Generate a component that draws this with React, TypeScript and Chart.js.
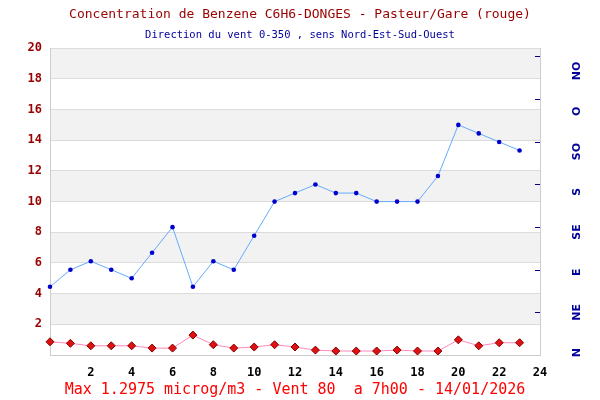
import React, { useEffect, useRef } from 'react';
import { Chart, registerables } from 'chart.js';

Chart.register(...registerables);

const hours = [0, 1, 2, 3, 4, 5, 6, 7, 8, 9, 10, 11, 12, 13, 14, 15, 16, 17, 18, 19, 20, 21, 22, 23];
const benzene = [0.86, 0.76, 0.6, 0.6, 0.6, 0.45, 0.45, 1.2975, 0.67, 0.45, 0.52, 0.67, 0.52, 0.32, 0.26, 0.26, 0.26, 0.32, 0.26, 0.26, 0.99, 0.6, 0.8, 0.8];
const windDir = [80, 100, 110, 100, 90, 120, 150, 80, 110, 100, 140, 180, 190, 200, 190, 190, 180, 180, 180, 210, 270, 260, 250, 240];
const dirLabels = ['N', 'NE', 'E', 'SE', 'S', 'SO', 'O', 'NO'];
const grayBandStarts = [2, 6, 10, 14, 18];

const titleText = 'Concentration de Benzene C6H6-DONGES - Pasteur/Gare (rouge)';
const subtitleText = 'Direction du vent 0-350 , sens Nord-Est-Sud-Ouest';
const footerText = 'Max 1.2975 microg/m3 - Vent 80  a 7h00 - 14/01/2026';

const MONO = '"DejaVu Sans Mono", "Liberation Mono", monospace';

const bandsPlugin = {
  id: 'bands',
  beforeDraw(chart: any) {
    const { ctx, chartArea } = chart;
    const y = chart.scales.y;
    ctx.save();
    ctx.fillStyle = '#f2f2f2';
    for (const s of grayBandStarts) {
      const top = y.getPixelForValue(s + 2);
      const bot = y.getPixelForValue(s);
      ctx.fillRect(chartArea.left, top, chartArea.right - chartArea.left, bot - top);
    }
    ctx.restore();
  },
  afterDatasetsDraw(chart: any) {
    const { ctx, chartArea } = chart;
    const r = chart.scales.yTick;
    ctx.save();
    ctx.strokeStyle = '#000080';
    ctx.lineWidth = 1;
    for (let i = 1; i < dirLabels.length; i++) {
      const py = Math.round(r.getPixelForValue(i)) + 0.5;
      ctx.beginPath();
      ctx.moveTo(chartArea.right - 5, py);
      ctx.lineTo(chartArea.right, py);
      ctx.stroke();
    }
    ctx.restore();
  },
};

export default function App() {
  const ref = useRef<HTMLCanvasElement | null>(null);
  useEffect(() => {
    if (!ref.current) return;
    const chart = new Chart(ref.current, {
      type: 'line',
      data: {
        datasets: [
          {
            label: 'Benzene',
            data: hours.map((h, i) => ({ x: h, y: benzene[i] })),
            yAxisID: 'y',
            borderColor: '#ff88bb',
            borderWidth: 1,
            pointStyle: 'rectRot',
            pointRadius: 4,
            pointBackgroundColor: '#dd1111',
            pointBorderColor: '#880000',
            pointBorderWidth: 1,
            clip: false,
          } as any,
          {
            label: 'Vent',
            data: hours.map((h, i) => ({ x: h, y: windDir[i] })),
            yAxisID: 'yDir',
            borderColor: '#66aaff',
            borderWidth: 1,
            pointRadius: 2.3,
            pointBackgroundColor: '#0000cc',
            pointBorderColor: '#0000cc',
            pointBorderWidth: 0,
            clip: false,
          } as any,
        ],
      },
      options: {
        animation: false,
        responsive: false,
        maintainAspectRatio: false,
        layout: { padding: { left: 0, right: 0, top: 0, bottom: 0 } },
        plugins: {
          legend: { display: false },
          tooltip: { enabled: false },
          title: {
            display: true,
            text: titleText,
            color: '#990000',
            font: { family: MONO, size: 13, weight: 'normal' },
            padding: { top: 7, bottom: 4 },
          },
          subtitle: {
            display: true,
            text: subtitleText,
            color: '#000099',
            font: { family: MONO, size: 10.5, weight: 'normal' },
            padding: { top: 2, bottom: 7 },
          },
        },
        scales: {
          x: {
            type: 'linear',
            min: 0,
            max: 24,
            ticks: {
              stepSize: 2,
              color: '#000000',
              font: { family: MONO, size: 12, weight: 'bold' },
              padding: 11,
              maxRotation: 0,
              callback: (v: any) => (v === 0 ? '' : String(v)),
            },
            grid: { display: false, drawTicks: false },
            border: { display: true, color: '#cccccc' },
            title: {
              display: true,
              text: footerText,
              color: '#ff0000',
              font: { family: MONO, size: 15, weight: 'normal' },
              padding: { top: 2, bottom: 1 },
            },
            afterFit: (s: any) => {
              s.height = 45;
            },
          },
          y: {
            position: 'left',
            min: 0,
            max: 20,
            ticks: {
              stepSize: 2,
              color: '#990000',
              font: { family: MONO, size: 12, weight: 'bold' },
              padding: 8,
              callback: (v: any) => (v === 0 ? '' : String(v)),
            },
            grid: { color: '#dcdcdc', drawTicks: false },
            border: { display: true, color: '#cccccc' },
            afterFit: (s: any) => {
              s.width = 50;
            },
          },
          yDir: {
            display: false,
            min: 0,
            max: 360,
          },
          yTick: {
            display: false,
            min: 0,
            max: 7.19,
          },
          yR: {
            position: 'right',
            min: -0.057,
            max: 7.567,
            afterBuildTicks: (s: any) => {
              s.ticks = dirLabels.map((_, i) => ({ value: i }));
            },
            ticks: {
              color: '#000099',
              font: { family: '"DejaVu Sans", sans-serif', size: 11, weight: 'bold' },
              minRotation: 90,
              maxRotation: 90,
              crossAlign: 'center',
              padding: 28,
              autoSkip: false,
              callback: (v: any, i: number) => dirLabels[i],
            },
            grid: { drawOnChartArea: false, drawTicks: false },
            border: { display: true, color: '#cccccc' },
            afterFit: (s: any) => {
              s.width = 60;
            },
          },
        },
      } as any,
      plugins: [bandsPlugin],
    });
    return () => chart.destroy();
  }, []);
  return (
    <div style={{ position: 'fixed', left: 0, top: 0, width: 600, height: 400, background: '#ffffff' }}>
      <canvas ref={ref} width={600} height={400} style={{ width: 600, height: 400 }} />
    </div>
  );
}
